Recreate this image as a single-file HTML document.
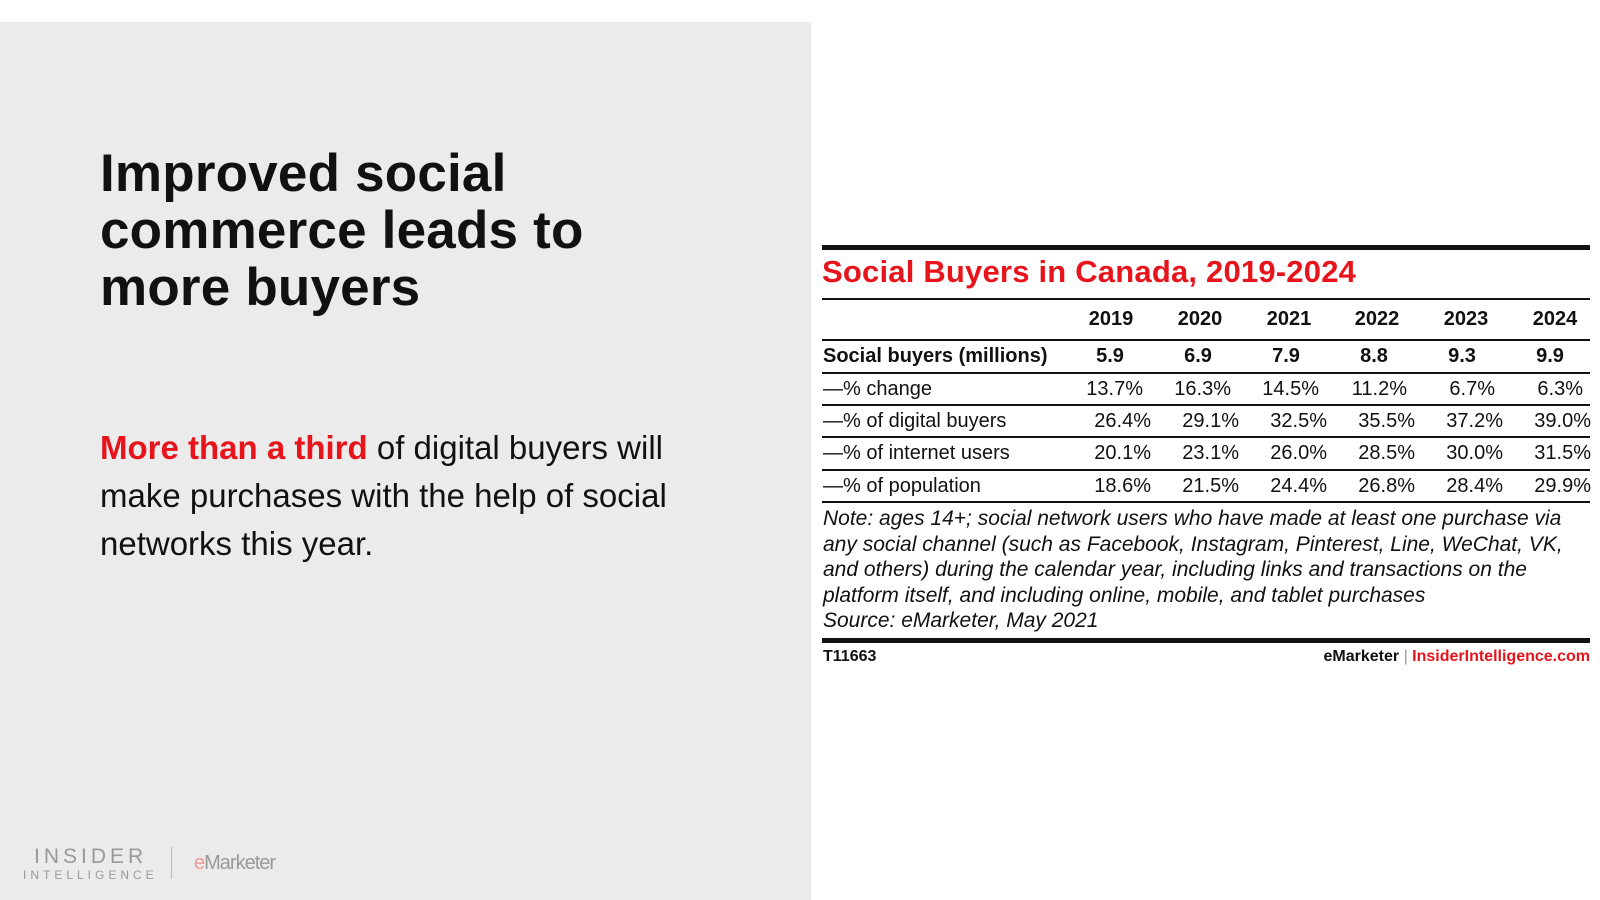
<!DOCTYPE html>
<html><head><meta charset="utf-8"><style>
body{margin:0;width:1600px;height:900px;position:relative;background:#fff;font-family:"Liberation Sans",sans-serif;overflow:hidden}
.a{position:absolute;white-space:nowrap}
.gray{left:0;top:22px;width:811px;height:878px;background:#ebebeb}
.h{left:100px;font-size:53px;font-weight:bold;color:#111;letter-spacing:0.2px}
.b{left:100px;font-size:33px;color:#111}
.ln{left:822px;width:768px;background:#111}
.t{font-size:20px;color:#111}
.r{text-align:right;width:90px}
.c{text-align:center;width:90px}
.n{left:823px;font-size:21px;font-style:italic;color:#111;letter-spacing:0}
</style></head><body>
<div class="a gray"></div>
<div class="a h" style="top:143px">Improved social</div>
<div class="a h" style="top:200px">commerce leads to</div>
<div class="a h" style="top:257px">more buyers</div>
<div class="a b" style="top:429px"><span style="color:#e8141c;font-weight:bold">More than a third</span> of digital buyers will</div>
<div class="a b" style="top:477px">make purchases with the help of social</div>
<div class="a b" style="top:525px">networks this year.</div>
<div class="a" style="left:34px;top:845px;font-size:21px;letter-spacing:4px;color:#999">INSIDER</div>
<div class="a" style="left:23px;top:868px;font-size:12px;letter-spacing:4px;color:#999">INTELLIGENCE</div>
<div class="a" style="left:171px;top:847px;width:1px;height:32px;background:#bbb"></div>
<div class="a" style="left:194px;top:852px;font-size:20px;color:#999;letter-spacing:-1px"><span style="color:#e99">e</span>Marketer</div>

<div class="a ln" style="top:245px;height:5px"></div>
<div class="a" style="left:822px;top:254px;font-size:31px;font-weight:bold;color:#e8141c;letter-spacing:0.2px">Social Buyers in Canada, 2019-2024</div>
<div class="a ln" style="top:298px;height:2px"></div>
<div class="a ln" style="top:339px;height:2px"></div>
<div class="a ln" style="top:372px;height:2px"></div>
<div class="a ln" style="top:404px;height:2px"></div>
<div class="a ln" style="top:436px;height:2px"></div>
<div class="a ln" style="top:469px;height:2px"></div>
<div class="a ln" style="top:501px;height:2px"></div>
<div class="a ln" style="top:638px;height:5px"></div>

<div class="a t" style="top:308px;left:1066px;font-weight:bold">
<span class="a c" style="left:0">2019</span><span class="a c" style="left:89px">2020</span><span class="a c" style="left:178px">2021</span><span class="a c" style="left:266px">2022</span><span class="a c" style="left:355px">2023</span><span class="a c" style="left:444px">2024</span></div>

<div class="a t" style="left:823px;top:345px;font-weight:bold">Social buyers (millions)</div>
<div class="a t" style="top:345px;left:1065px;font-weight:bold">
<span class="a c" style="left:0">5.9</span><span class="a c" style="left:88px">6.9</span><span class="a c" style="left:176px">7.9</span><span class="a c" style="left:264px">8.8</span><span class="a c" style="left:352px">9.3</span><span class="a c" style="left:440px">9.9</span></div>

<div class="a t" style="left:823px;top:378px">—% change</div>
<div class="a t" style="top:378px;left:1053px">
<span class="a r" style="left:0">13.7%</span><span class="a r" style="left:88px">16.3%</span><span class="a r" style="left:176px">14.5%</span><span class="a r" style="left:264px">11.2%</span><span class="a r" style="left:352px">6.7%</span><span class="a r" style="left:440px">6.3%</span></div>

<div class="a t" style="left:823px;top:410px">—% of digital buyers</div>
<div class="a t" style="top:410px;left:1061px">
<span class="a r" style="left:0">26.4%</span><span class="a r" style="left:88px">29.1%</span><span class="a r" style="left:176px">32.5%</span><span class="a r" style="left:264px">35.5%</span><span class="a r" style="left:352px">37.2%</span><span class="a r" style="left:440px">39.0%</span></div>

<div class="a t" style="left:823px;top:442px">—% of internet users</div>
<div class="a t" style="top:442px;left:1061px">
<span class="a r" style="left:0">20.1%</span><span class="a r" style="left:88px">23.1%</span><span class="a r" style="left:176px">26.0%</span><span class="a r" style="left:264px">28.5%</span><span class="a r" style="left:352px">30.0%</span><span class="a r" style="left:440px">31.5%</span></div>

<div class="a t" style="left:823px;top:475px">—% of population</div>
<div class="a t" style="top:475px;left:1061px">
<span class="a r" style="left:0">18.6%</span><span class="a r" style="left:88px">21.5%</span><span class="a r" style="left:176px">24.4%</span><span class="a r" style="left:264px">26.8%</span><span class="a r" style="left:352px">28.4%</span><span class="a r" style="left:440px">29.9%</span></div>

<div class="a n" style="top:507px">Note: ages 14+; social network users who have made at least one purchase via</div>
<div class="a n" style="top:533px">any social channel (such as Facebook, Instagram, Pinterest, Line, WeChat, VK,</div>
<div class="a n" style="top:558px">and others) during the calendar year, including links and transactions on the</div>
<div class="a n" style="top:584px">platform itself, and including online, mobile, and tablet purchases</div>
<div class="a n" style="top:609px">Source: eMarketer, May 2021</div>

<div class="a" style="left:823px;top:648px;font-size:16px;font-weight:bold;color:#111">T11663</div>
<div class="a" style="right:10px;top:648px;font-size:16px;font-weight:bold;color:#111">eMarketer <span style="font-weight:normal;color:#999">|</span> <span style="color:#e8141c">InsiderIntelligence.com</span></div>
</body></html>
